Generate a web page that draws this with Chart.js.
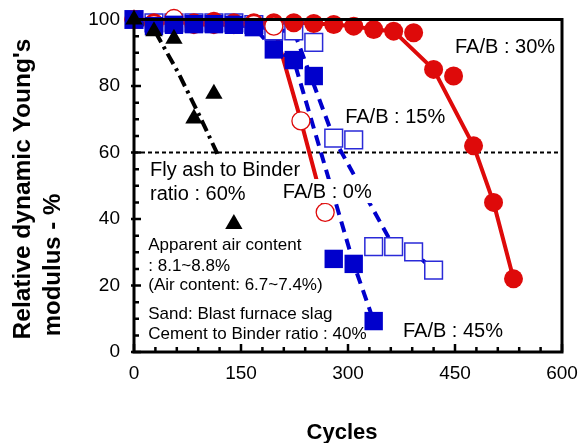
<!DOCTYPE html>
<html>
<head>
<meta charset="utf-8">
<script src="https://cdn.jsdelivr.net/npm/chart.js@4"></script>
<style>
  html, body { margin: 0; padding: 0; background: #fff; }
  #wrap { width: 579px; height: 443px; position: relative; }
</style>
</head>
<body>
<div id="wrap"><canvas id="chart"></canvas></div>
<script>
// Data (cycles vs relative dynamic modulus, %)
const cycles = [0, 28, 56, 84, 112, 140, 168, 196, 224, 252, 280, 308, 336, 364, 392, 420, 448, 476, 504, 532];

const fa30 = [100, 99, 99, 99, 99.5, 99, 99, 99, 99, 98.8, 98.5, 98, 97, 96.5, 96, 85, 83, 62, 45, 22];
const fa30LineSkip = [392, 448];

const cycles0 = [0, 28, 56, 84, 112, 140, 168, 196, 234, 268];
const fa0 = [100, 98.5, 100.3, 98.5, 98.5, 98.5, 98.5, 98, 69.5, 42];

const cycles15 = cycles.slice(0, 16);
const fa15 = [100, 99, 99, 99, 99, 99, 98.5, 96.6, 96.6, 93.1, 64.3, 63.8, 31.7, 31.7, 30.1, 24.6];
const fa15LineSkip = [252, 308, 336];

const cycles45 = cycles.slice(0, 13);
const fa45 = [100, 98, 98.4, 98.6, 98.6, 98.4, 97.7, 91, 87.8, 83, 28, 26.5, 9.3];
const fa45LineSkip = [252, 280];

const cycles60 = [0, 28, 56, 84, 112, 140];
const fa60 = [100, 96.5, 94.2, 70.2, 77.7, 38.5];
// hand-drawn trend for FA/B 60% (runs under its label)
const trend60Cycles = [0, 28, 62, 92, 116, 124];
const trend60Values = [100, 97, 84, 71, 60, 52];

const threshold = 60;
const xTicks = [0, 150, 300, 450, 600];
const yTicks = [0, 20, 40, 60, 80, 100];

const FONT = "'Liberation Sans', Arial, sans-serif";
const RED = '#de0a0a';
const BLUE = '#0000cc';

function pts(xs, ys) {
    return xs.map((x, i) => ({ x: x, y: ys[i] }));
}
function linePts(xs, ys, skip) {
    return pts(xs, ys).filter(p => !skip.includes(p.x));
}

// Text notes placed in data coordinates
const notes = [
    { text: 'FA/B : 30%', x: 450, y: 90, size: 20 },
    { text: 'FA/B : 15%', x: 296, y: 69, size: 20 },
    { text: 'FA/B : 0%', x: 208.6, y: 46.3, size: 20, bg: true },
    { text: 'FA/B : 45%', x: 377, y: 4.6, size: 20 },
    { text: 'Fly ash to Binder', x: 22.4, y: 52.8, size: 20, bg: true },
    { text: 'ratio : 60%', x: 22.4, y: 45.7, size: 20, bg: true },
    { text: 'Apparent air content', x: 20, y: 30.7, size: 17 },
    { text: ': 8.1~8.8%', x: 20, y: 24.5, size: 17 },
    { text: '(Air content: 6.7~7.4%)', x: 20, y: 18.6, size: 17 },
    { text: 'Sand: Blast furnace slag', x: 20, y: 10.0, size: 17 },
    { text: 'Cement to Binder ratio : 40%', x: 20, y: 4.0, size: 17 }
];

const framePlugin = {
    id: 'frame',
    afterDatasetsDraw(chart) {
        const { ctx, scales: { x, y } } = chart;
        ctx.save();
        ctx.textBaseline = 'alphabetic';
        ctx.textAlign = 'left';
        notes.forEach(n => {
            ctx.font = n.size + 'px ' + FONT;
            const px = x.getPixelForValue(n.x);
            const py = y.getPixelForValue(n.y);
            if (n.bg) {
                const w = ctx.measureText(n.text).width;
                ctx.fillStyle = '#fff';
                ctx.fillRect(px - 2, py - n.size * 0.75 - 4, w + 4, n.size * 0.75 + 9);
            }
            ctx.fillStyle = '#000';
            ctx.fillText(n.text, px, py);
        });

        // axis titles
        const a = chart.chartArea;
        ctx.font = 'bold 22px ' + FONT;
        ctx.textAlign = 'center';
        ctx.fillText('Cycles', (a.left + a.right) / 2 - 6, 439);

        ctx.rotate(-Math.PI / 2);
        ctx.textAlign = 'center';
        ctx.font = 'bold 24.5px ' + FONT;
        ctx.fillText("Relative dynamic Young's", -189, 30);
        ctx.font = 'bold 24px ' + FONT;
        ctx.fillText('modulus - %', -265, 60);
        ctx.restore();
    },
    // plot frame and inward tick marks
    afterDraw(chart) {
        const { ctx, chartArea: a, scales: { x, y } } = chart;
        ctx.save();
        ctx.setLineDash([]);
        ctx.strokeStyle = '#000';
        ctx.lineWidth = 3;
        ctx.strokeRect(a.left, a.top, a.right - a.left, a.bottom - a.top);
        ctx.lineWidth = 2.5;
        ctx.beginPath();
        for (let v = 0; v <= 600; v += 30) {
            const px = x.getPixelForValue(v);
            const len = v % 150 === 0 ? 8 : 5;
            ctx.moveTo(px, a.bottom);
            ctx.lineTo(px, a.bottom - len);
        }
        for (let v = 0; v <= 100; v += 5) {
            const py = y.getPixelForValue(v);
            const major = v % 20 === 0;
            ctx.moveTo(a.left - (major ? 3 : 0), py);
            ctx.lineTo(a.left + (major ? 7 : 5), py);
        }
        ctx.stroke();
        ctx.restore();
    }
};

const ctx = document.getElementById('chart').getContext('2d');
const chart = new Chart(ctx, {
    type: 'scatter',
    data: {
        datasets: [{
            label: 'FA/B 60%',
            data: pts(cycles60, fa60),
            pointStyle: 'triangle',
            pointRadius: 10,
            backgroundColor: '#000',
            borderColor: '#000',
            borderWidth: 0,
            clip: false,
            order: 0
        }, {
            label: 'FA/B 45%',
            data: pts(cycles45, fa45),
            pointStyle: 'rect',
            pointRadius: 13,
            backgroundColor: BLUE,
            borderColor: BLUE,
            borderWidth: 0,
            clip: false,
            order: 1
        }, {
            label: 'FA/B 0%',
            data: pts(cycles0, fa0),
            pointStyle: 'circle',
            pointRadius: 9,
            backgroundColor: '#fff',
            borderColor: RED,
            borderWidth: 1.3,
            clip: false,
            order: 2
        }, {
            label: 'FA/B 30%',
            data: pts(cycles, fa30),
            pointStyle: 'circle',
            pointRadius: 9.5,
            backgroundColor: RED,
            borderColor: RED,
            borderWidth: 0,
            clip: false,
            order: 3
        }, {
            label: 'FA/B 15%',
            data: pts(cycles15, fa15),
            pointStyle: 'rect',
            pointRadius: 12.5,
            backgroundColor: '#fff',
            borderColor: '#2a2ad8',
            borderWidth: 1.5,
            clip: false,
            order: 4
        }, {
            label: 'trend 60%',
            data: pts(trend60Cycles, trend60Values),
            showLine: true,
            pointRadius: 0,
            borderColor: '#000',
            borderWidth: 4,
            borderDash: [12, 5, 3, 5],
            order: 5
        }, {
            label: 'trend 45%',
            data: linePts(cycles45, fa45, fa45LineSkip),
            showLine: true,
            pointRadius: 0,
            borderColor: BLUE,
            borderWidth: 4,
            borderDash: [11, 7],
            order: 6
        }, {
            label: 'trend 15%',
            data: linePts(cycles15, fa15, fa15LineSkip),
            showLine: true,
            pointRadius: 0,
            borderColor: BLUE,
            borderWidth: 4,
            borderDash: [11, 7],
            order: 7
        }, {
            label: 'trend 0%',
            data: pts(cycles0, fa0),
            showLine: true,
            pointRadius: 0,
            borderColor: RED,
            borderWidth: 4,
            order: 8
        }, {
            label: 'trend 30%',
            data: linePts(cycles, fa30, fa30LineSkip),
            showLine: true,
            pointRadius: 0,
            borderColor: RED,
            borderWidth: 4,
            order: 9
        }, {
            label: 'threshold',
            data: [{ x: 0, y: threshold }, { x: 600, y: threshold }],
            showLine: true,
            pointRadius: 0,
            borderColor: '#000',
            borderWidth: 2,
            borderDash: [4, 3],
            order: 10
        }]
    },
    options: {
        responsive: true,
        maintainAspectRatio: false,
        animation: false,
        devicePixelRatio: 1,
        layout: { padding: { top: 19.5, right: 17, bottom: 0, left: 0 } },
        plugins: {
            legend: { display: false },
            tooltip: { enabled: false }
        },
        scales: {
            x: {
                type: 'linear',
                min: 0,
                max: 600,
                afterBuildTicks: s => { s.ticks = xTicks.map(v => ({ value: v })); },
                afterFit: s => { s.height = 91; s.paddingLeft = 0; s.paddingRight = 0; },
                ticks: { color: '#000', font: { family: FONT, size: 19 }, padding: 10 },
                grid: { display: false, drawTicks: false },
                border: { display: false }
            },
            y: {
                type: 'linear',
                min: 0,
                max: 100,
                afterBuildTicks: s => { s.ticks = yTicks.map(v => ({ value: v })); },
                afterFit: s => { s.width = 134; s.paddingTop = 0; s.paddingBottom = 0; },
                ticks: { color: '#000', font: { family: FONT, size: 19 }, padding: 14 },
                grid: { display: false, drawTicks: false },
                border: { display: false }
            }
        }
    },
    plugins: [framePlugin]
});
</script>
</body>
</html>
